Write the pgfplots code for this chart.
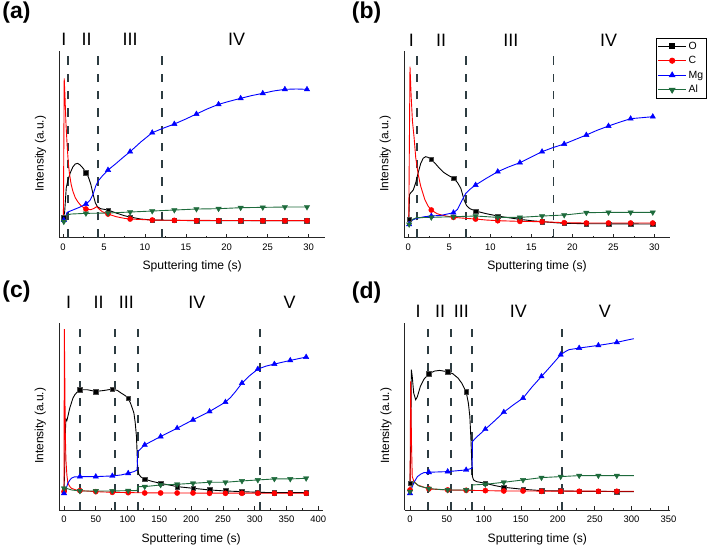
\documentclass[border=0pt]{standalone}
\usepackage{pgfplots}
\pgfplotsset{compat=1.18}
\usepackage{fontspec}
\setmainfont{Liberation Sans}
\definecolor{cO}{RGB}{0,0,0}
\definecolor{cC}{RGB}{255,0,0}
\definecolor{cMg}{RGB}{0,0,255}
\definecolor{cAl}{RGB}{30,107,60}
\definecolor{cDash}{RGB}{45,60,65}
\tikzset{reg/.style={font=\fontsize{18}{20}\selectfont, anchor=center}}
\pgfplotsset{
  panel/.style={
    scale only axis,
    axis x line=bottom, axis y line=left,
    axis line style={-, line width=0.8bp, black!85},
    ymin=0, ymax=560, ytick=\empty,
    tick align=inside, major tick length=4bp, minor tick length=2bp,
    minor x tick num=1,
    every tick/.style={black!85, line width=0.6bp},
    clip=false,
    /pgf/number format/assume math mode=true,
    ticklabel style={font=\fontsize{9.5}{10}\selectfont},
    xticklabel shift=2.5bp,
    xlabel={Sputtering time (s)}, ylabel={Intensity (a.u.)},
    every axis x label/.style={at={(axis description cs:0.5,-0.155)}, anchor=center, font=\fontsize{12.2}{13}\selectfont},
    every axis y label/.style={at={(axis description cs:-0.036,0.45)}, rotate=90, anchor=south, font=\fontsize{12}{13}\selectfont},
  },
  lO/.style={cO, line width=0.9bp, forget plot},
  lC/.style={cC, line width=0.9bp, forget plot},
  lMg/.style={cMg, line width=0.9bp, forget plot},
  lAl/.style={cAl, line width=0.9bp, forget plot},
  mO/.style={only marks, mark=square*, mark size=2.3bp, mark options={fill=cO, draw=black!70}, forget plot},
  mC/.style={only marks, mark=*, mark size=2.6bp, mark options={fill=cC, draw=cC}, forget plot},
  mMg/.style={only marks, mark=triangle*, mark size=3.1bp, mark options={fill=cMg, draw=cMg}, forget plot},
  mAl/.style={only marks, mark=triangle*, mark size=3.1bp, mark options={fill=cAl, draw=cAl, rotate=180}, forget plot},
  dline/.style={cDash, line width=1.9bp, dash pattern=on 8.3bp off 9bp, forget plot},
}
\begin{document}
\begin{tikzpicture}
\useasboundingbox (0,0) rectangle (708bp,547bp);
\node[font=\bfseries\fontsize{23}{26}\selectfont] at (16.5bp,534bp) {(a)};
\node[font=\bfseries\fontsize{23}{26}\selectfont] at (366.5bp,534bp) {(b)};
\node[font=\bfseries\fontsize{23}{26}\selectfont] at (16.5bp,255bp) {(c)};
\node[font=\bfseries\fontsize{23}{26}\selectfont] at (366.5bp,254bp) {(d)};

% ---------------- (a)
\begin{axis}[panel, at={(59.3bp,309.3bp)}, anchor=south west, width=265.7bp, height=186.7bp,
  xmin=-0.45, xmax=32, xtick={0,5,...,30}]
\addplot[dline] coordinates {(0.57,0)(0.57,555)};
\addplot[dline] coordinates {(4.3,0)(4.3,555)};
\addplot[dline] coordinates {(12.1,0)(12.1,555)};
\addplot[lO] coordinates {(0,58)(0.2,75)(0.4,150)(0.6,172)(0.9,195)(1.2,212)(1.5,221)(1.8,223)(2.1,218)(2.5,207)(2.8,195)(3.1,182)(3.4,160)(3.7,128)(3.95,105)(4.2,93)(4.6,87)(5.5,83)(6.5,74)(7.5,66)(8.2,62)(9.5,56)(10.9,53)(13.6,52)(16.3,51)(30,51)};
\addplot[mO] coordinates {(0.1,62)(2.8,195)(5.5,83)(8.2,62)(10.9,53)(13.6,52)(16.3,51)(19.0,51)(21.7,51)(24.4,51)(27.1,51)(29.8,51)};
\addplot[lC] coordinates {(0.05,58)(0.15,478)(0.25,420)(0.35,350)(0.5,280)(0.65,225)(0.8,190)(1.0,160)(1.2,140)(1.5,120)(1.8,108)(2.2,96)(2.8,86)(3.4,84)(3.8,88)(4.1,93)(4.4,86)(4.8,78)(5.5,71)(6.5,63)(7.5,58)(8.2,56)(10.9,53)(13.6,52)(30,51)};
\addplot[mC] coordinates {(2.8,86)(5.5,71)(8.2,56)(10.9,53)(13.6,52)(16.3,51)(19.0,51)(21.7,51)(24.4,51)(27.1,51)(29.8,51)};
\addplot[lMg] coordinates {(0.1,53)(0.3,62)(0.5,76)(1,81)(1.5,86)(2,91)(2.8,101)(3.3,112)(3.7,132)(4.0,155)(4.3,170)(4.8,185)(5.5,203)(6.5,223)(7.3,240)(8.2,258)(9.5,287)(10.9,315)(12.2,328)(13.6,341)(15,356)(16.3,371)(17.6,386)(19,400)(20.3,409)(21.7,418)(23,426)(24.4,433)(25.7,440)(27.1,445)(28.5,446)(29.8,445)};
\addplot[mMg] coordinates {(0.1,53)(2.8,101)(5.5,203)(8.2,258)(10.9,315)(13.6,341)(16.3,371)(19.0,400)(21.7,418)(24.4,433)(27.1,445)(29.8,445)};
\addplot[lAl] coordinates {(0.1,48)(0.5,68)(1,71)(2.8,73)(5.5,74)(8.2,77)(10.9,80)(13.6,83)(16.3,86)(19,87)(21.7,90)(24.4,91)(27.1,92)(29.8,92)};
\addplot[mAl] coordinates {(0.1,48)(2.8,73)(5.5,74)(8.2,77)(10.9,80)(13.6,83)(16.3,86)(19.0,87)(21.7,90)(24.4,91)(27.1,92)(29.8,92)};
\node[reg] at (axis cs:0.12,595) {I};
\node[reg] at (axis cs:2.9,595) {II};
\node[reg] at (axis cs:8.2,595) {III};
\node[reg] at (axis cs:21.2,595) {IV};
\end{axis}

% ---------------- (b)
\begin{axis}[panel, at={(404bp,309.3bp)}, anchor=south west, width=266bp, height=186.7bp,
  xmin=-0.53, xmax=31.9, xtick={0,5,...,30},
  legend style={at={(axis description cs:0.947,1.07)}, anchor=north west, draw=black, line width=0.6bp,
    font=\fontsize{10.5}{11}\selectfont, inner sep=1.5bp, row sep=1.8bp, cells={anchor=west}},
  legend image code/.code={\draw[mark repeat=2, mark phase=2, #1] plot coordinates {(0bp,0bp)(14bp,0bp)(28bp,0bp)};}]
\addplot[dline] coordinates {(1.0,0)(1.0,555)};
\addplot[dline] coordinates {(7.0,0)(7.0,555)};
\addplot[dline] coordinates {(17.7,0)(17.7,555)};
\addplot[lO] coordinates {(0.05,50)(0.15,130)(0.3,135)(0.6,143)(0.9,165)(1.2,195)(1.5,222)(1.8,238)(2.1,243)(2.4,241)(2.8,235)(3.3,222)(3.8,208)(4.3,196)(4.8,188)(5.3,181)(5.6,176)(6.0,165)(6.4,148)(6.8,113)(7.1,96)(7.5,87)(8.2,80)(9.5,72)(10.9,65)(12.2,60)(13.6,55)(15,51)(16.3,48)(19,43)(21.7,42)(30,41)};
\addplot[mO] coordinates {(0.1,55)(2.8,235)(5.5,178)(8.2,80)(10.9,65)(13.6,55)(16.3,48)(19.0,43)(21.7,42)(24.4,41)(27.1,41)(29.8,41)};
\addplot[lC] coordinates {(0.05,50)(0.2,513)(0.35,420)(0.5,350)(0.7,300)(0.9,240)(1.2,190)(1.5,155)(2.0,115)(2.4,95)(2.8,83)(3.5,72)(4.2,67)(5.5,61)(7,58)(8.2,56)(9.5,53)(10.9,51)(13.6,49)(16.3,48)(19,45)(21.7,44)(30,44)};
\addplot[mC] coordinates {(2.8,83)(5.5,61)(8.2,56)(10.9,51)(13.6,49)(16.3,48)(19.0,45)(21.7,44)(24.4,44)(27.1,44)(29.8,44)};
\addplot[lMg] coordinates {(0.05,40)(0.5,53)(1,58)(2,63)(2.8,65)(4,67)(5.5,75)(6.0,85)(6.5,110)(7.0,133)(7.5,145)(8.2,158)(9.5,178)(10.9,198)(12.2,212)(13.6,225)(15,242)(16.3,258)(17.6,270)(19,281)(20.3,294)(21.7,308)(23,322)(24.4,335)(25.7,346)(27.1,357)(28.5,360)(29.8,363)};
\addplot[mMg] coordinates {(0.1,40)(2.8,65)(5.5,75)(8.2,158)(10.9,198)(13.6,225)(16.3,258)(19.0,281)(21.7,308)(24.4,335)(27.1,357)(29.8,363)};
\addplot[lAl] coordinates {(0.05,40)(0.5,55)(1,60)(2.8,61)(5.5,63)(8.2,65)(10.9,61)(13.6,61)(16.3,65)(19,68)(21.7,75)(24.4,76)(27.1,76)(29.8,76)};
\addplot[mAl] coordinates {(0.1,40)(2.8,61)(5.5,63)(8.2,65)(10.9,61)(13.6,61)(16.3,65)(19.0,68)(21.7,75)(24.4,76)(27.1,76)(29.8,76)};
\node[reg] at (axis cs:0.37,593) {I};
\node[reg] at (axis cs:4.0,593) {II};
\node[reg] at (axis cs:12.5,593) {III};
\node[reg] at (axis cs:24.4,593) {IV};
\addlegendimage{cO, line width=0.9bp, mark=square*, mark size=2.3bp, mark options={fill=cO}}
\addlegendentry{O}
\addlegendimage{cC, line width=0.9bp, mark=*, mark size=2.6bp}
\addlegendentry{C}
\addlegendimage{cMg, line width=0.9bp, mark=triangle*, mark size=3.1bp}
\addlegendentry{Mg}
\addlegendimage{cAl, line width=0.9bp, mark=triangle*, mark size=3.1bp, mark options={rotate=180}}
\addlegendentry{Al}
\end{axis}

% ---------------- (c)
\begin{axis}[panel, at={(59bp,37bp)}, anchor=south west, width=264.3bp, height=187bp,
  xmin=-7.9, xmax=408, xtick={0,50,...,400}]
\addplot[dline] coordinates {(24.7,0)(24.7,555)};
\addplot[dline] coordinates {(79.8,0)(79.8,555)};
\addplot[dline] coordinates {(116.5,0)(116.5,555)};
\addplot[dline] coordinates {(308,0)(308,555)};
\addplot[lO] coordinates {(0,60)(1,120)(2,230)(3,272)(4.5,268)(6,280)(9,305)(11.5,320)(14,335)(17,345)(21,354)(25,360)(37,360)(50,355)(63,358)(76,362)(84,358)(90,350)(96,343)(101,335)(105,318)(108,302)(110,290)(112,262)(114,220)(115,170)(116,120)(118,106)(121,99)(127,92)(140,85)(152,80)(178,70)(203,65)(229,60)(254,57)(280,55)(305,53)(331,52)(381,52)};
\addplot[mO] coordinates {(0,62)(25,360)(50,355)(76,362)(101,335)(127,92)(152,80)(178,70)(203,65)(229,60)(254,57)(280,55)(305,53)(331,52)(356,52)(381,52)};
\addplot[lC] coordinates {(0,55)(0.5,542)(1.2,400)(2,230)(3,150)(4.5,105)(6,82)(8.5,72)(11.5,65)(19,60)(25,58)(50,55)(76,53)(101,52)(152,51)(381,50)};
\addplot[mC] coordinates {(0,55)(25,58)(50,55)(76,53)(101,52)(127,51)(152,51)(178,51)(203,51)(229,50)(254,50)(280,50)(305,50)(331,50)(356,50)(381,50)};
\addplot[lMg] coordinates {(0,50)(3,62)(6,80)(9,89)(11.5,95)(16,99)(25,100)(50,100)(76,102)(90,105)(101,110)(110,115)(115,120)(116,175)(121,184)(127,195)(152,220)(178,245)(203,270)(229,295)(254,323)(262,337)(270,355)(280,380)(292,402)(305,422)(318,431)(331,437)(356,448)(381,458)};
\addplot[mMg] coordinates {(0,50)(25,100)(50,100)(76,102)(101,110)(127,195)(152,220)(178,245)(203,270)(229,295)(254,323)(280,380)(305,422)(331,437)(356,448)(381,458)};
\addplot[lAl] coordinates {(0,65)(5,64)(12,60)(25,57)(50,57)(76,57)(101,58)(115,58)(116,70)(127,70)(152,75)(178,77)(203,80)(229,83)(254,83)(280,87)(305,90)(331,93)(356,93)(381,95)};
\addplot[mAl] coordinates {(0,65)(25,57)(50,57)(76,57)(101,58)(127,70)(152,75)(178,77)(203,80)(229,83)(254,83)(280,87)(305,90)(331,93)(356,93)(381,95)};
\node[reg] at (axis cs:7.3,621) {I};
\node[reg] at (axis cs:54.6,621) {II};
\node[reg] at (axis cs:98,621) {III};
\node[reg] at (axis cs:209,621) {IV};
\node[reg] at (axis cs:355,621) {V};
\end{axis}

% ---------------- (d)
\begin{axis}[panel, at={(404.7bp,37bp)}, anchor=south west, width=265.3bp, height=187bp,
  xmin=-7.2, xmax=352, xtick={0,50,...,350}]
\addplot[dline] coordinates {(24.8,0)(24.8,555)};
\addplot[dline] coordinates {(55.1,0)(55.1,555)};
\addplot[dline] coordinates {(84.5,0)(84.5,555)};
\addplot[dline] coordinates {(205.5,0)(205.5,555)};
\addplot[lO] coordinates {(0,80)(1,200)(1.8,420)(3,400)(5,350)(7.7,330)(10,340)(14,370)(19,392)(25.5,408)(33,416)(40,418)(51,414)(58,408)(65,395)(70,380)(76,354)(79,320)(81,280)(82.5,210)(83.5,150)(84.5,100)(86,90)(90,85)(102,80)(115,73)(127,68)(153,62)(178,58)(204,57)(229,56)(255,56)(280,55)(303,55)};
\addplot[mO] coordinates {(0,80)(25.5,408)(51,414)(76,354)(102,80)(127,68)(153,62)(178,58)(204,57)(229,56)(255,56)(280,55)};
\addplot[lC] coordinates {(0,60)(0.9,385)(2,200)(3,100)(5.4,85)(10,75)(25.5,63)(51,60)(76,59)(102,58)(127,57)(303,56)};
\addplot[mC] coordinates {(0,60)(25.5,63)(51,60)(76,59)(102,58)(127,57)(153,57)(178,56)(204,56)(229,56)(255,56)(280,56)};
\addplot[lMg] coordinates {(0,50)(3,70)(6,85)(10,100)(15,108)(19,112)(25.5,113)(51,115)(76,120)(84,125)(84.5,205)(90,218)(102,242)(115,268)(127,293)(140,315)(153,335)(165,368)(178,400)(191,432)(204,465)(210,474)(215,480)(229,485)(242,489)(255,493)(267,497)(280,502)(292,508)(303,513)};
\addplot[mMg] coordinates {(0,50)(25.5,113)(51,115)(76,120)(102,242)(127,293)(153,335)(178,400)(204,465)(229,485)(255,493)(280,502)};
\addplot[lAl] coordinates {(0,55)(3,85)(7.7,80)(12,72)(25.5,64)(51,60)(76,60)(84,60)(84.5,75)(102,77)(127,83)(153,90)(178,97)(204,100)(229,103)(255,103)(280,103)(303,103)};
\addplot[mAl] coordinates {(0,55)(25.5,64)(51,60)(76,60)(102,77)(127,83)(153,90)(178,97)(204,100)(229,103)(255,103)(280,103)};
\node[reg] at (axis cs:10.8,594) {I};
\node[reg] at (axis cs:40.6,594) {II};
\node[reg] at (axis cs:69.6,594) {III};
\node[reg] at (axis cs:146.8,594) {IV};
\node[reg] at (axis cs:263.8,594) {V};
\end{axis}
\end{tikzpicture}
\end{document}
